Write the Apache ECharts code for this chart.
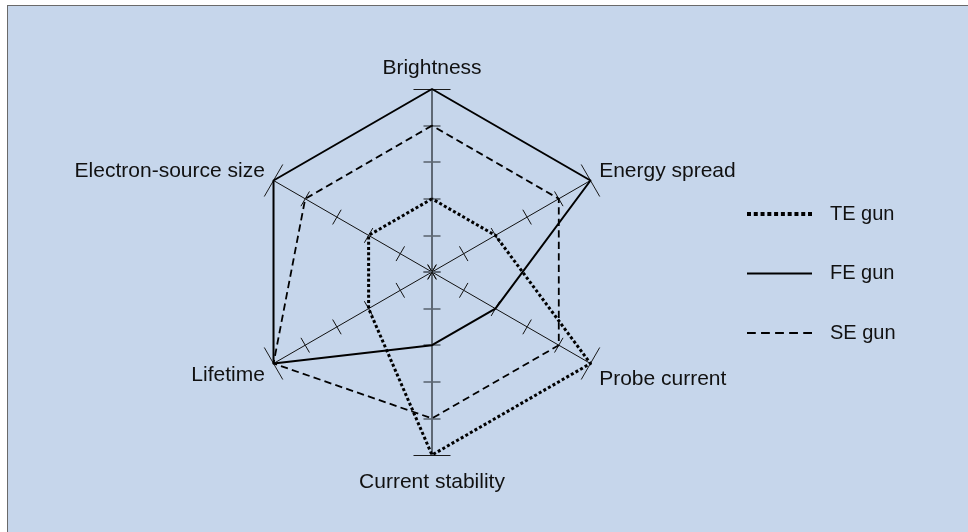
<!DOCTYPE html>
<html>
<head>
<meta charset="utf-8">
<script src="https://cdn.jsdelivr.net/npm/echarts@6/dist/echarts.min.js"></script>
<style>
  html, body { margin: 0; padding: 0; background: #ffffff; overflow: hidden; }
  #panel {
    position: absolute; left: 7px; top: 5px; width: 980px; height: 540px;
    background: #c6d6eb; border-top: 1.5px solid #6a6a6a; border-left: 1.5px solid #6a6a6a;
  }
  #chart { position: absolute; left: 0; top: 0; width: 968px; height: 532px; }
</style>
</head>
<body>
<div id="panel"></div>
<div id="chart"></div>
<script>
// Axes listed counter-clockwise from the top, as the radar lays them out.
const categories = ['Brightness', 'Electron-source size', 'Lifetime', 'Current stability', 'Probe current', 'Energy spread'];
const maxScore = 5;
const seriesNames = ['TE gun', 'FE gun', 'SE gun'];
const teGun = [2, 2, 2, 5, 5, 2];
const feGun = [5, 5, 5, 2, 2, 5];
const seGun = [4, 4, 5, 4, 4, 4];
const innerTicks = [0, 1, 2, 3, 4];
const endTicks = [5];

const FONT = '"Liberation Sans", Arial, Helvetica, sans-serif';
const GREY = '#5e6874';
const verticalAxes = ['Brightness', 'Current stability'];
// Per-axis tweaks that nudge some axis names off their default anchor.
const nameStyle = {
  'Electron-source size': { verticalAlign: 'bottom', lineHeight: 9 },
  'Energy spread': { verticalAlign: 'bottom', lineHeight: 9 },
  'Lifetime': { verticalAlign: 'top', lineHeight: 13 },
  'Probe current': { verticalAlign: 'top', lineHeight: 21 },
  'Current stability': { padding: [7, 0, 0, 0] }
};

function indicators(greyVertical, withNames) {
  return categories.map(function (name) {
    const ind = { name: name, min: 0, max: maxScore };
    if (greyVertical && verticalAxes.indexOf(name) >= 0) {
      ind.axisLine = { lineStyle: { color: GREY, width: 2 } };
      ind.axisTick = { lineStyle: { color: GREY, width: 1.6 } };
    }
    if (withNames && nameStyle[name]) {
      ind.nameTextStyle = Object.assign({}, nameStyle[name]);
    }
    return ind;
  });
}

function radar(opts) {
  return Object.assign({
    center: [432, 272],
    radius: 183,
    startAngle: 90,
    splitNumber: 5,
    shape: 'polygon',
    splitLine: { show: false },
    splitArea: { show: false },
    axisLabel: { show: false },
    axisName: { show: false },
    axisLine: { show: false }
  }, opts);
}

const chart = echarts.init(document.getElementById('chart'), null, { renderer: 'canvas' });

// Ticks cross their axis: each set is drawn twice, once on each side.
const option = {
  backgroundColor: 'transparent',
  animation: false,
  radar: [
    radar({
      indicator: indicators(true, true),
      axisName: { show: true, color: '#111', fontSize: 21, fontFamily: FONT },
      nameGap: 10,
      axisLine: { show: true, lineStyle: { color: '#111', width: 1 } },
      axisTick: { show: true, length: 8.5, customValues: innerTicks, lineStyle: { color: '#111', width: 1 } }
    }),
    radar({
      indicator: indicators(true, false),
      axisTick: { show: true, length: -8.5, customValues: innerTicks, lineStyle: { color: '#111', width: 1 } }
    }),
    radar({
      indicator: indicators(false, false),
      axisTick: { show: true, length: 18.5, customValues: endTicks, lineStyle: { color: '#1a1a1a', width: 1 } }
    }),
    radar({
      indicator: indicators(false, false),
      axisTick: { show: true, length: -18.5, customValues: endTicks, lineStyle: { color: '#1a1a1a', width: 1 } }
    })
  ],
  legend: {
    orient: 'vertical',
    left: 742,
    top: 199,
    itemWidth: 65,
    itemHeight: 4,
    itemGap: 39.5,
    itemStyle: { color: '#000', borderWidth: 0 },
    textStyle: { color: '#111', fontSize: 20, fontFamily: FONT, lineHeight: 20, padding: [0, 0, 0, 13] },
    data: [
      { name: seriesNames[0], icon: 'path://M0,0h4v4h-4zM6.8,0h4v4h-4zM13.6,0h4v4h-4zM20.4,0h4v4h-4zM27.2,0h4v4h-4zM34,0h4v4h-4zM40.8,0h4v4h-4zM47.6,0h4v4h-4zM54.4,0h4v4h-4zM61.2,0h4v4h-4z' },
      { name: seriesNames[1], icon: 'path://M0,0h65v2h-65z' },
      { name: seriesNames[2], icon: 'path://M0,0h8.5v2h-8.5zM13.6,0h8.5v2h-8.5zM27.2,0h8.5v2h-8.5zM40.8,0h8.5v2h-8.5zM54.4,0h8.5v2h-8.5z' }
    ]
  },
  series: [
    {
      type: 'radar', radarIndex: 0, name: seriesNames[0], symbol: 'none',
      itemStyle: { color: '#000' },
      lineStyle: { color: '#000', width: 3, type: [3, 2.3], cap: 'butt' },
      data: [{ name: seriesNames[0], value: teGun }]
    },
    {
      type: 'radar', radarIndex: 0, name: seriesNames[1], symbol: 'none',
      itemStyle: { color: '#000' },
      lineStyle: { color: '#000', width: 2, type: 'solid' },
      data: [{ name: seriesNames[1], value: feGun }]
    },
    {
      type: 'radar', radarIndex: 0, name: seriesNames[2], symbol: 'none',
      itemStyle: { color: '#000' },
      lineStyle: { color: '#000', width: 1.8, type: [7.3, 4.2], cap: 'butt' },
      data: [{ name: seriesNames[2], value: seGun }]
    }
  ]
};

chart.setOption(option);
</script>
</body>
</html>
